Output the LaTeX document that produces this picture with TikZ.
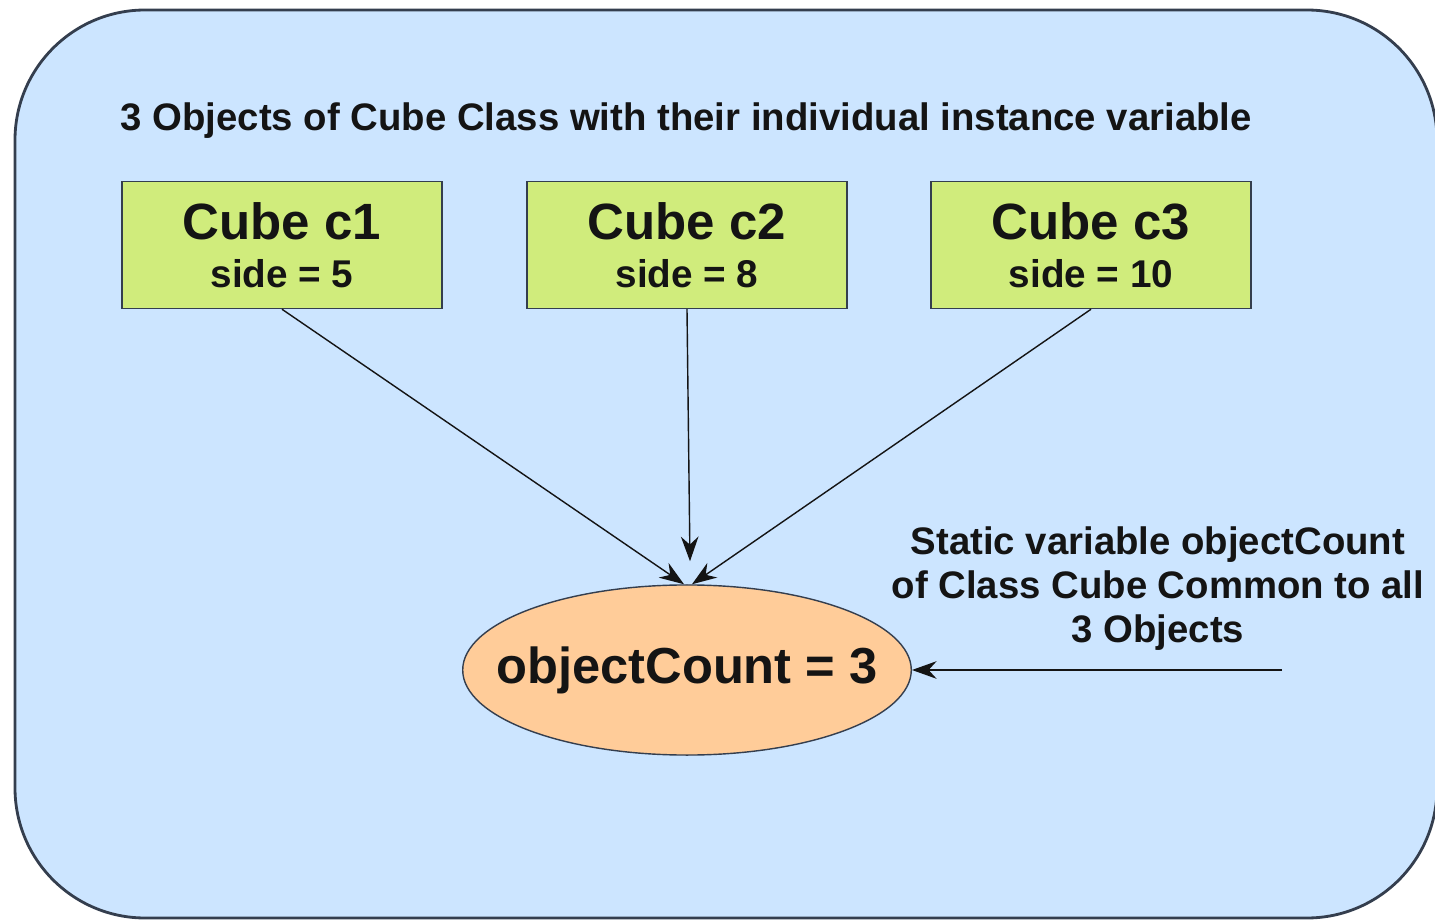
\documentclass[tikz,border=0pt]{standalone}
\usepackage{fontspec}
\setmainfont{Liberation Sans}
\usetikzlibrary{shapes.geometric, arrows.meta, positioning}
\definecolor{panelBlue}{RGB}{204, 229, 255}
\definecolor{panelEdge}{RGB}{52, 62, 78}
\definecolor{objGreen}{RGB}{208, 236, 124}
\definecolor{countOrange}{RGB}{255, 204, 153}
\definecolor{inkDark}{RGB}{20, 20, 20}

\begin{document}
\begin{tikzpicture}[
    x=0.01cm, y=-0.01cm,
    object/.style={
        rectangle,
        minimum width=3.2cm,
        minimum height=1.27cm,
        align=center,
        inner sep=0pt,
        text=inkDark,
        draw=panelEdge,
        fill=objGreen
    },
    counter/.style={
        ellipse,
        minimum height=1.7cm,
        inner xsep=-0.32cm,
        inner ysep=0pt,
        text=inkDark,
        draw=panelEdge,
        fill=countOrange,
        font=\fontsize{14.4}{17}\selectfont\bfseries
    },
    note/.style={
        align=center,
        text=inkDark,
        font=\fontsize{10.9}{12.5}\selectfont\bfseries
    },
    arrow/.style={
        -{Stealth[length=7pt, width=5pt]},
        thin,
        color=inkDark
    }
]
\useasboundingbox (0,0) rectangle (1435,921);

% Outer panel
\draw[panelEdge, fill=panelBlue, line width=0.8pt, rounded corners=1.3cm]
    (15,10) rectangle (1437,918);

% Caption
\node[note, anchor=west, inner sep=0pt] (caption) at (120,121)
    {3 Objects of Cube Class with their individual instance variable};

% Objects
\node[object] (c1) at (282,245) {{\fontsize{14.5}{17}\selectfont\bfseries Cube c1}\\[1.5pt]{\fontsize{11}{13}\selectfont\bfseries side = 5}};
\node[object] (c2) at (687,245) {{\fontsize{14.5}{17}\selectfont\bfseries Cube c2}\\[1.5pt]{\fontsize{11}{13}\selectfont\bfseries side = 8}};
\node[object] (c3) at (1091,245) {{\fontsize{14.5}{17}\selectfont\bfseries Cube c3}\\[1.5pt]{\fontsize{11}{13}\selectfont\bfseries side = 10}};

% Static variable
\node[counter] (count) at (687,670) {objectCount = 3};
\node[note] (static) at (1158,589)
    {Static variable objectCount\\of Class Cube Common to all\\3 Objects};
\coordinate (src) at (1282,670);

% Arrows
\draw[arrow] (c1.south) -- ([xshift=-0.03cm]count.north);
\draw[arrow] (c2.south) -- ([xshift=0.03cm, yshift=0.23cm]count.north);
\draw[arrow] (c3.south) -- ([xshift=0.05cm]count.north);
\draw[arrow] (src) -- (count.east);

\end{tikzpicture}
\end{document}
